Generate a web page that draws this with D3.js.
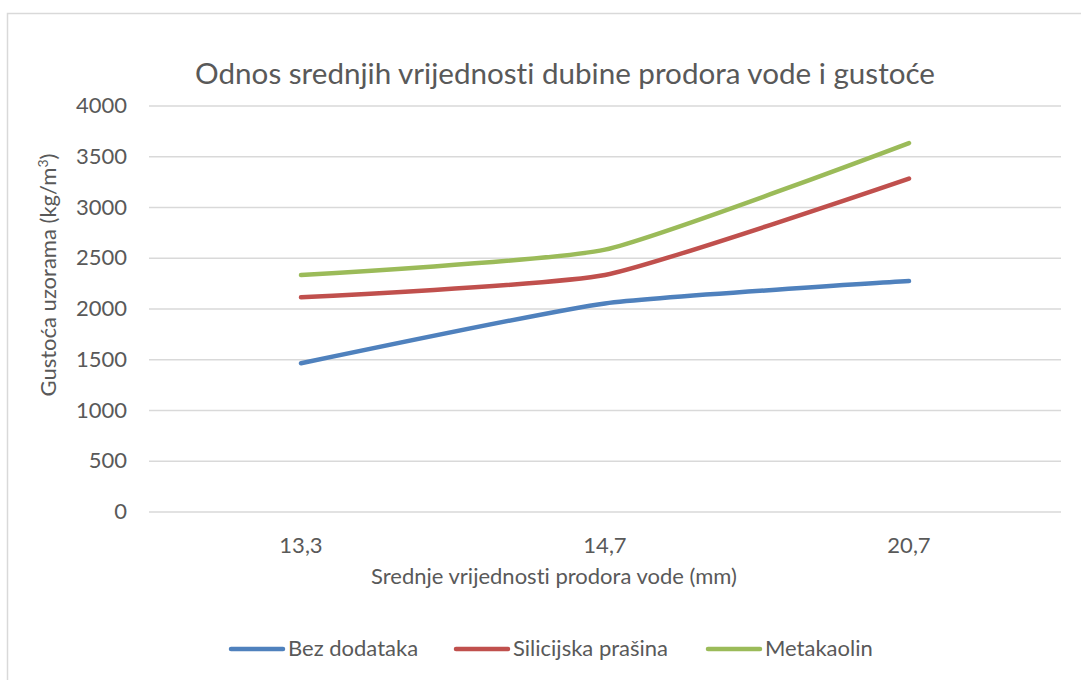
<!DOCTYPE html>
<html><head><meta charset="utf-8">
<script src="https://cdn.jsdelivr.net/npm/d3@7"></script>
<style>body{margin:0;background:#fff}svg{display:block}text{font-family:Lato,sans-serif;fill:#595959;font-variant-ligatures:none;font-feature-settings:"liga" 0}</style>
</head><body><svg id="c" width="1081" height="680"></svg>
<script>
const categories = ["13,3", "14,7", "20,7"];
const seriesNames = ["Bez dodataka", "Silicijska prašina", "Metakaolin"];
const bezDodataka = [1460, 2050, 2270];
const silicijska = [2110, 2330, 3280];
const metakaolin = [2330, 2580, 3630];
const yTicks = [0, 500, 1000, 1500, 2000, 2500, 3000, 3500, 4000];
const colors = ["#4F81BD", "#C0504D", "#9BBB59"];
const series = [bezDodataka, silicijska, metakaolin];

const svg = d3.select("#c");
svg.append("rect").attr("x",7.5).attr("y",13.5).attr("width",1100).attr("height",700)
  .attr("fill","#fff").attr("stroke","#d9d9d9").attr("stroke-width",1.5);

const x = d3.scaleBand().domain(categories).range([149, 1061]);
const y = d3.scaleLinear().domain([0, 4000]).range([511.5, 105.5]);

const yAxis = svg.append("g").attr("transform","translate(149,0)")
  .call(d3.axisLeft(y).tickValues(yTicks).tickFormat(d3.format("d")).tickSize(-(1061-149)).tickPadding(22));
yAxis.select(".domain").remove();
yAxis.selectAll("line").attr("stroke","#d9d9d9").attr("stroke-width",1.3);
yAxis.selectAll("text").style("font-size","22px").style("fill","#595959").style("font-family","Lato");

const xAxis = svg.append("g").attr("transform","translate(0,511.5)")
  .call(d3.axisBottom(x).tickSize(0).tickPadding(26));
xAxis.select(".domain").remove();
xAxis.selectAll("text").style("font-size","22px").style("fill","#595959").style("font-family","Lato");

const line = d3.line().x((d,i)=>x(categories[i])+x.bandwidth()/2).y(d=>y(d)).curve(d3.curveCardinal.tension(0.5));
series.forEach((s,k)=>{
  svg.append("path").attr("d",line(s)).attr("fill","none").attr("stroke",colors[k])
    .attr("stroke-width",4.5).attr("stroke-linecap","round").attr("stroke-linejoin","round");
});

svg.append("text").attr("x",565).attr("y",84).attr("text-anchor","middle")
  .style("font-size","29.6px").text("Odnos srednjih vrijednosti dubine prodora vode i gustoće");
svg.append("text").attr("x",554).attr("y",584).attr("text-anchor","middle")
  .style("font-size","22px").text("Srednje vrijednosti prodora vode (mm)");
const yt = svg.append("text").attr("transform","translate(56,275) rotate(-90)").attr("text-anchor","middle")
  .style("font-size","22px");
yt.append("tspan").text("Gustoća uzorama (kg/m");
yt.append("tspan").attr("dy",-8).style("font-size","14px").text("3");
yt.append("tspan").attr("dy",8).text(")");

const legX = [231, 456, 708];
seriesNames.forEach((n,k)=>{
  const g = svg.append("g").attr("transform",`translate(${legX[k]},649)`);
  g.append("line").attr("x1",0).attr("x2",52).attr("y1",0).attr("y2",0)
    .attr("stroke",colors[k]).attr("stroke-width",4.5).attr("stroke-linecap","round");
  g.append("text").attr("x",57).attr("y",7).style("font-size","22px").text(n);
});
</script></body></html>
